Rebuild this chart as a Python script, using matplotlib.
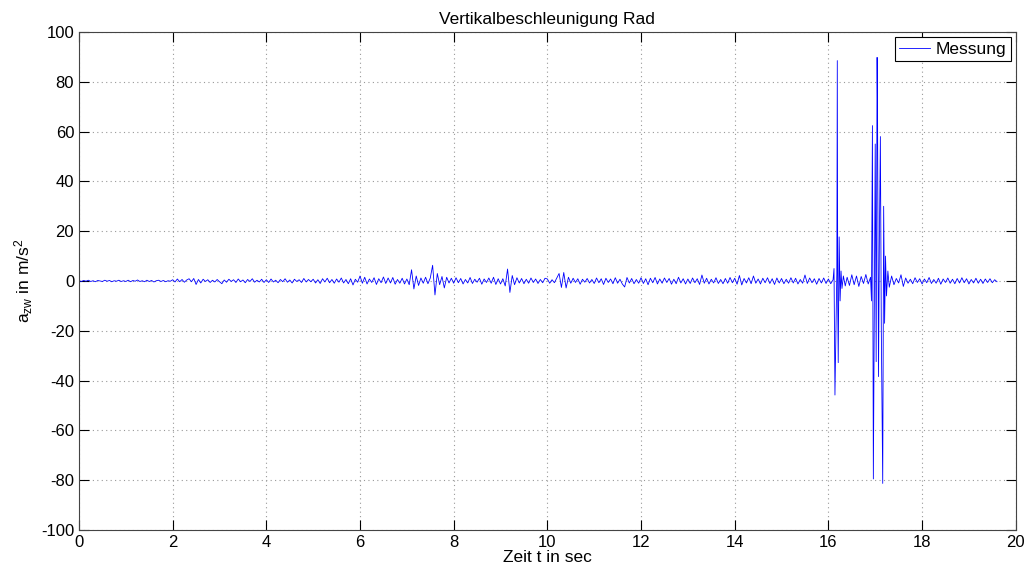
import numpy as np
import matplotlib.pyplot as plt

plt.rcParams['font.family'] = ['Liberation Sans', 'DejaVu Sans']
plt.rcParams['mathtext.default'] = 'regular'
plt.rcParams['axes.unicode_minus'] = False

dt = 0.05
a_pre = [
    0.1, -0.2, 0.2, -0.1, 0.3, -0.2, 0.1, -0.3, 0.2, 0.0, -0.2, 0.3, -0.1, 0.2, -0.3, 0.1, -0.1, 0.3, -0.2, 0.1,
    -0.2, 0.3, -0.3, 0.2, -0.1, 0.4, -0.2, 0.1, -0.3, 0.3, -0.2, 0.2, -0.4, 0.1, 0.3, -0.2, 0.2, -0.3, 0.1, -0.1,
    0.5, -0.4, 0.8, -0.3, 0.6, -0.5, 0.4, 0.9, -0.3, 1.0, -1.4, 0.6, -0.8, 0.7, -0.2, 0.5, -0.6, 0.3, -0.4, 0.6,
    -0.3, -1.1, 0.4, -0.5, 0.7, -0.2, 0.5, -0.6, 0.8, -0.3, 0.4, -0.7, 0.6, -0.2, 0.9, -0.5, 0.3, -0.4, 0.7, -0.6,
    0.5, -0.6, 0.8, -0.4, 0.3, -0.7, 0.6, -0.3, 0.9, -0.5, 0.4, -0.8, 0.7, -0.2, 0.5, -0.6, 1.0, -0.4, 0.6, -0.3,
    0.7, -0.8, 0.5, -1.0, 0.9, -0.4, 1.1, -0.7, 0.6, -0.9, 0.8, -0.5, 1.2, -0.8, 0.6, -1.1, 0.9, -1.6, 0.7, -0.5,
    2.0, -0.9, 1.5, -1.2, 0.8, -0.6, 1.3, -1.4, 0.9, -0.7, 1.6, -1.0, 1.2, -0.8, 1.4, -1.3, 0.6, -0.9, 1.1, -1.2,
    0.8, -1.5, 4.5, -3.2, 2.0, -1.8, 1.2, -0.9, 1.5, -1.1, 1.2, 6.3, -5.6, 3.0, -1.5, 1.8, -2.8, 1.5, -0.8, 1.1,
    -0.9, 1.3, -0.7, 1.0, -1.2, 0.6, -0.8, 1.4, -1.0, 0.7, -0.5, 1.1, -1.3, 0.8, -0.6, 1.2, -0.9, 1.5, -1.4, 0.9,
    -1.2, 0.9, -2.0, 4.8, -4.6, 2.2, -1.5, 1.3, -0.8, 1.0, -1.1, 0.7, -0.9, 1.2, -0.6, 0.8, -1.0, 0.6, -0.7, 1.1,
    0.8, -0.9, 0.5, -0.7, 1.2, 3.0, -2.6, 3.4, -2.8, 1.5, -0.9, 1.1, -0.6, 0.9, -1.3, 0.7, -0.5, 1.0, -0.8, 0.6,
    -1.0, 1.2, -0.7, 0.9, -1.4, 1.1, -0.6, 0.8, -1.1, 1.3, -0.9, 0.7, -1.2, -2.4, 1.4, -0.8, 1.0, -1.1, 0.6, -0.9,
    1.3, -1.0, 0.9, -1.5, 1.1, -0.7, 1.4, -1.2, 0.8, -0.9, 1.2, -0.6, 1.0, -1.3, 0.7, -1.1, 1.5, -0.8, 0.9, -1.2,
    0.8, -1.0, 1.2, -0.7, 0.9, -1.4, 2.4, -0.9, 1.1, -1.2, 0.7, -0.8, 1.3, -1.0, 0.6, -1.1, 1.0, -0.9, 1.4, -0.7,
    1.1, -1.3, 2.2, -1.6, 1.0, -0.8, 1.3, -1.1, 2.0, -0.9, 0.8, -1.2, 1.1, -0.7, 1.3, -1.0, 0.9, -1.4, 1.2, -0.8,
    1.0, -1.1, 0.7, -0.9, 1.3, -0.8, 1.1, -1.2, 0.6, -0.9, 2.4, -1.0, 1.2, -0.7, 0.9, -1.3, 1.0, -0.8, 1.2, -1.0,
    0.8, -1.1,
]

# Stossbereich mit feinerer Zeitaufloesung
t_burst = [16.10, 16.12, 16.14, 16.16, 16.18, 16.19, 16.20, 16.21, 16.23, 16.25,
           16.27, 16.29, 16.32, 16.36, 16.40, 16.45, 16.50, 16.55, 16.60, 16.65,
           16.70, 16.75, 16.80, 16.85, 16.90, 16.92, 16.94, 16.96, 16.98, 17.00,
           17.02, 17.04, 17.05, 17.07, 17.09, 17.11, 17.13, 17.16, 17.18, 17.20,
           17.22, 17.24, 17.27, 17.30, 17.35, 17.40]
a_burst = [0.5, 5.0, -45.8, -20.0, 3.0, 88.5, -10.0, -32.8, 17.7, -8.0,
           4.0, -3.0, 2.0, -2.0, 1.5, -1.8, 2.5, -1.5, 2.0, -2.2,
           1.8, -1.0, 2.6, -1.2, 1.5, -8.0, 62.4, -79.5, -15.0, 55.0,
           -32.4, 89.8, 65.5, -38.4, 20.0, 58.0, -20.0, -81.3, 30.0, -17.0,
           10.0, -6.0, 4.0, -2.5, 2.0, -1.5]

a_post = [
    1.0, -0.8, 2.5, -2.2, 1.2, -0.9, 0.7, -1.1, 1.3, -0.6,
    0.9, -1.2, 0.8, -0.7, 1.4, -1.0, 0.6, -0.9, 1.1, -1.3,
    0.8, -0.6, 1.2, -0.9, 0.7, -1.1, 1.0, -0.8, 1.3, -0.7,
    0.9, -1.2, 0.6, -0.8, 1.1, -0.9, 0.7, -1.0, 0.8, -0.6,
    0.9, -0.7, 0.5, -0.3,
]

t_pre = np.arange(len(a_pre)) * dt
t_post = 17.45 + np.arange(len(a_post)) * dt
t = np.concatenate([t_pre, t_burst, t_post])
a = np.concatenate([a_pre, a_burst, a_post])

fig = plt.figure(figsize=(10.26, 5.70), dpi=100)
ax = fig.add_axes([0.077, 0.0702, 0.913, 0.8737])
ax.plot(t, a, color='b', lw=0.6, label='Messung')

ax.set_xlim(0, 20)
ax.set_ylim(-100, 100)
ax.set_xticks(np.arange(0, 21, 2))
ax.set_yticks(np.arange(-100, 101, 20))
ax.grid(True, color='#999999', linestyle=(0, (1, 3)), linewidth=0.8)
ax.tick_params(direction='in', length=7, top=True, right=True, labelsize=12, width=0.8)
for s in ax.spines.values():
    s.set_color('#444444')
    s.set_linewidth(0.8)

ax.set_title('Vertikalbeschleunigung Rad', fontsize=12.5, pad=6)
ax.set_xlabel('Zeit t in sec', fontsize=12.5, labelpad=0)
ax.set_ylabel('$a_{zw}$ in m/s$^2$', fontsize=12.5, labelpad=4)

leg = ax.legend(loc='upper right', fontsize=12.5, fancybox=False, framealpha=1,
                borderaxespad=0.3, handlelength=1.8, handletextpad=0.3,
                borderpad=0.25)
leg.get_frame().set_edgecolor('black')
leg.get_frame().set_linewidth(0.8)

fig.savefig('out.png', dpi=100)
